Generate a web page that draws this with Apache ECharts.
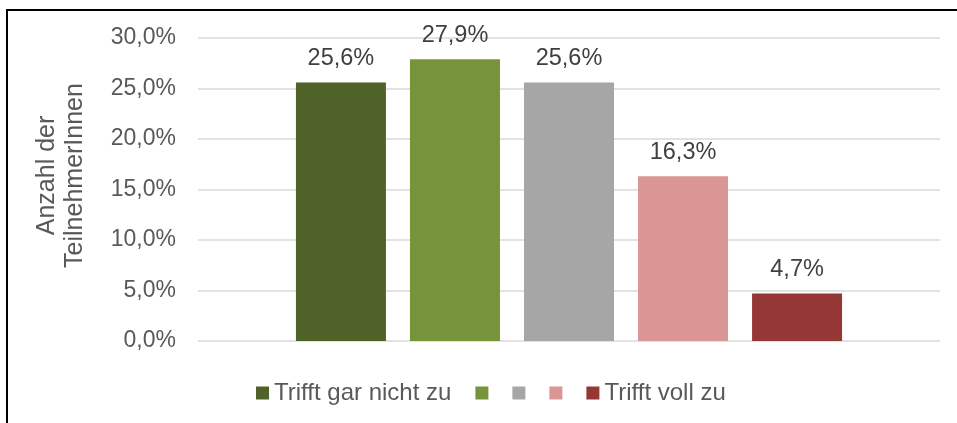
<!DOCTYPE html>
<html>
<head>
<meta charset="utf-8">
<script src="https://cdn.jsdelivr.net/npm/echarts@6/dist/echarts.min.js"></script>
<style>
  html, body { margin: 0; padding: 0; background: #fff; }
  #chart { width: 957px; height: 423px; }
</style>
</head>
<body>
<div id="chart"></div>
<script>
// values
var categories = [''];
var seriesNames = ['Trifft gar nicht zu', 'k2', 'k3', 'k4', 'Trifft voll zu'];
var legendLabels = ['Trifft gar nicht zu', '', '', '', 'Trifft voll zu'];
var values = [25.6, 27.9, 25.6, 16.3, 4.7];
var colors = ['#4F6228', '#77933C', '#A6A6A6', '#D99694', '#953735'];
var yTicks = [0, 5, 10, 15, 20, 25, 30];

var pct = function(v){
    return v.toFixed(1).replace('.', ',') + '%';
};

var chart = echarts.init(document.getElementById('chart'));

var series = [];
seriesNames.forEach(function(name, i){
    series.push({
        name: name,
        type: 'bar',
        data: [values[i]],
        barWidth: 90,
        barGap: '26.7%',
        itemStyle: {color: colors[i]},
        label: {
            show: true,
            position: 'top',
            distance: 12,
            color: '#404040',
            fontSize: 23.5,
            fontFamily: 'Liberation Sans',
            formatter: function(p){ return pct(p.value); }
        }
    });
});

chart.setOption({
    animation: false,
    textStyle: {fontFamily: 'Liberation Sans'},
    graphic: [{
        type: 'rect',
        shape: {x: 7, y: 10, width: 1000, height: 500},
        style: {fill: 'none', stroke: '#000', lineWidth: 2},
        silent: true
    }],
    grid: {
        left: 198,
        right: 17,
        top: 38,
        bottom: 82
    },
    legend: {
        left: 251,
        top: 376,
        itemWidth: 13,
        itemHeight: 13,
        itemGap: 24,
        icon: 'rect',
        data: seriesNames,
        formatter: function(name){
            return legendLabels[seriesNames.indexOf(name)];
        },
        textStyle: {color: '#595959', fontSize: 24, fontFamily: 'Liberation Sans'}
    },
    xAxis: {
        type: 'category',
        data: categories,
        axisLine: {show: false},
        axisTick: {show: false},
        axisLabel: {show: false}
    },
    yAxis: {
        type: 'value',
        min: yTicks[0],
        max: yTicks[yTicks.length - 1],
        interval: yTicks[1] - yTicks[0],
        name: 'Anzahl der\nTeilnehmerInnen',
        nameLocation: 'middle',
        nameGap: 109,
        nameTextStyle: {
            color: '#595959',
            fontSize: 25,
            lineHeight: 28,
            fontFamily: 'Liberation Sans',
            padding: [0, 0, 0, 28]
        },
        axisLine: {show: false},
        axisTick: {show: false},
        axisLabel: {
            margin: 22,
            color: '#595959',
            fontSize: 23,
            fontFamily: 'Liberation Sans',
            formatter: function(v){ return pct(v); }
        },
        splitLine: {lineStyle: {color: '#D9D9D9', width: 1.5}}
    },
    series: series
});
</script>
</body>
</html>
